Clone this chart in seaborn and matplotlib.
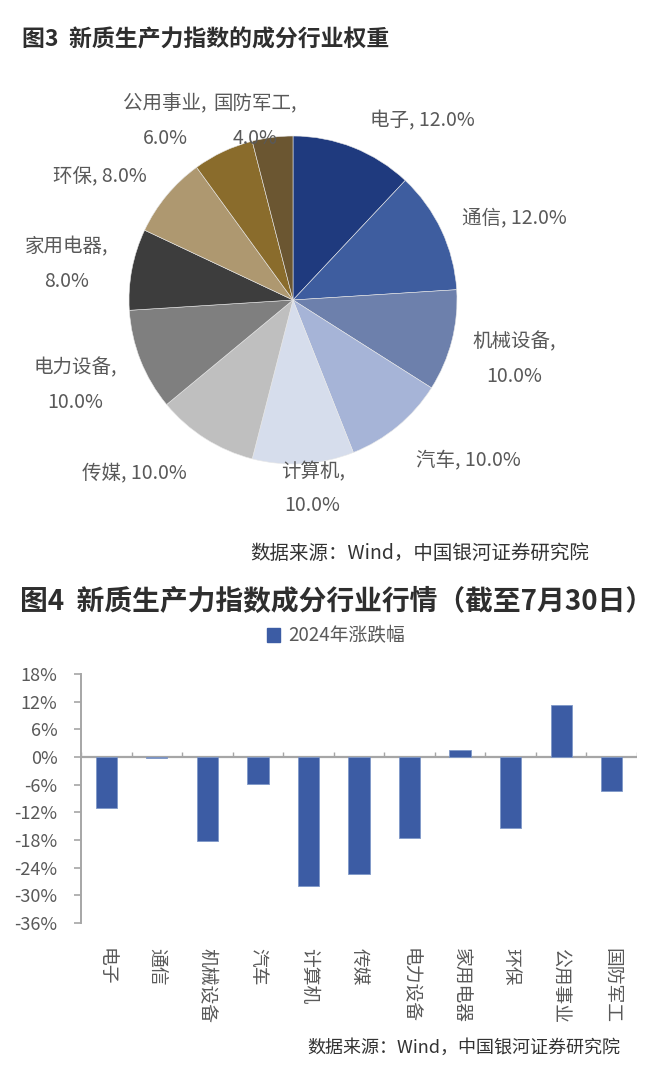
"""
新质生产力指数：成分行业权重（饼图）与 2024 年涨跌幅（柱状图）
Output: out.png (660x1074)
"""

import numpy as np
import matplotlib
matplotlib.use("Agg")
import matplotlib.pyplot as plt
from matplotlib.patches import Patch
import seaborn as sns

# -------------------------------
# Data
# -------------------------------
industries = ["电子", "通信", "机械设备", "汽车", "计算机", "传媒",
              "电力设备", "家用电器", "环保", "公用事业", "国防军工"]
weights = [12.0, 12.0, 10.0, 10.0, 10.0, 10.0, 10.0, 8.0, 8.0, 6.0, 4.0]
changes_2024 = [-11.0, -0.3, -18.2, -5.8, -28.0, -25.3, -17.5, 1.6, -15.3, 11.2, -7.4]
y_ticks = [18, 12, 6, 0, -6, -12, -18, -24, -30, -36]

pie_colors = ["#1f3a7e", "#3e5d9f", "#6d80ac", "#a6b4d7", "#d6ddec", "#bfbfbf",
              "#7f7f7f", "#3d3d3d", "#ae9870", "#8a6c2c", "#6b5631"]
bar_color = "#3c5ca4"
text_gray = "#595959"
title_color = "#2e2e2e"

# label anchor (pie data coords) and whether the label wraps to two lines
label_pos = [(0.79, 1.09), (1.35, 0.50), (1.35, -0.36), (1.07, -0.98),
             (0.12, -1.15), (-0.97, -1.06), (-1.33, -0.52), (-1.38, 0.22),
             (-1.18, 0.76), (-0.78, 1.09), (-0.23, 1.09)]
two_line = [False, False, True, False, True, False, True, True, False, True, True]

W, H = 660, 1074

sns.set_theme(style="white")
plt.rcParams["font.family"] = ["Noto Sans CJK SC", "DejaVu Sans"]
plt.rcParams["axes.unicode_minus"] = False


def px_box(left, top, right, bottom):
    return [left / W, 1 - bottom / H, (right - left) / W, (bottom - top) / H]


fig = plt.figure(figsize=(W / 100, H / 100), dpi=100)
fig.patch.set_facecolor("white")

# -------------------------------
# Figure 3: pie
# -------------------------------
fig.text(22 / W, 1 - 40 / H, "图3  新质生产力指数的成分行业权重", fontsize=16.5,
         fontweight="bold", color=title_color, va="center", ha="left")

cx, cy, r = 293, 300, 164
ax_pie = fig.add_axes(px_box(cx - r, cy - r, cx + r, cy + r))
ax_pie.pie(weights, colors=pie_colors, startangle=90, counterclock=False,
           radius=1, wedgeprops=dict(linewidth=0.4, edgecolor="#e8e8e8"))
ax_pie.set_xlim(-1, 1)
ax_pie.set_ylim(-1, 1)
ax_pie.set_aspect("equal")
ax_pie.axis("off")

for name, w, (lx, ly), wrap in zip(industries, weights, label_pos, two_line):
    sep = "\n" if wrap else " "
    ax_pie.text(lx, ly, f"{name},{sep}{w:.1f}%", ha="center", va="center",
                fontsize=14, color=text_gray, linespacing=1.85, clip_on=False)

fig.text(589 / W, 1 - 553 / H, "数据来源：Wind，中国银河证券研究院", fontsize=14,
         color="#333333", ha="right", va="center")

# -------------------------------
# Figure 4: bar chart
# -------------------------------
fig.text(20 / W, 1 - 602 / H, "图4  新质生产力指数成分行业行情（截至7月30日）",
         fontsize=20, fontweight="bold", color=title_color, va="center", ha="left")

ax = fig.add_axes(px_box(81, 674, 637, 923))
sns.barplot(x=industries, y=changes_2024, color=bar_color, width=0.42,
            edgecolor="#7f98c8", linewidth=0.6, ax=ax, saturation=1)
ax.set_xlim(-0.5, len(industries) - 0.5)
ax.set_ylim(-36, 18)
ax.set_yticks(y_ticks)
ax.set_yticklabels([f"{t}%" for t in y_ticks])

# zero line with boundary ticks
ax.axhline(0, color="#a6a6a6", linewidth=1.6, zorder=0)
bounds = np.arange(len(industries) + 1) - 0.5
ax.vlines(bounds, 0, 1.1, color="#a6a6a6", linewidth=1.0, zorder=0)

for side in ["top", "right", "bottom"]:
    ax.spines[side].set_visible(False)
ax.spines["left"].set_color("#a6a6a6")
ax.spines["left"].set_linewidth(1.4)
ax.tick_params(axis="y", left=True, length=5, width=1.2, color="#a6a6a6",
               labelsize=13, labelcolor=text_gray, pad=12)
ax.tick_params(axis="x", bottom=False, labelsize=13.5, labelcolor=text_gray, pad=12)
for lbl in ax.get_xticklabels():
    lbl.set_rotation(-90)
    lbl.set_va("top")
    lbl.set_ha("center")
ax.set_xlabel("")
ax.set_ylabel("")
ax.grid(False)

fig.legend(handles=[Patch(facecolor=bar_color, edgecolor=bar_color)],
           labels=["2024年涨跌幅"], loc="center", bbox_to_anchor=(336 / W, 1 - 636 / H),
           frameon=False, fontsize=13.5, labelcolor=text_gray, handlelength=0.7,
           handleheight=0.7, handletextpad=0.4)

fig.text(620 / W, 1 - 1048 / H, "数据来源：Wind，中国银河证券研究院", fontsize=13,
         color="#333333", ha="right", va="center")

fig.savefig("out.png", dpi=100, facecolor="white")
